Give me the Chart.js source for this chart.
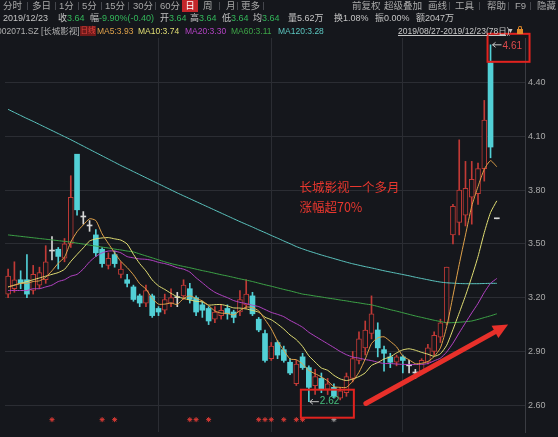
<!DOCTYPE html>
<html lang="zh-CN">
<head>
<meta charset="utf-8">
<title>长城影视 002071.SZ 日线</title>
<script src="https://cdn.jsdelivr.net/npm/chart.js@4.4.1/dist/chart.umd.min.js"></script>
<style>
  html, body { margin:0; padding:0; background:#15171c; }
  #wrap { position:relative; width:558px; height:437px; overflow:hidden; background:#15171c;
          font-family:"Liberation Sans","Noto Sans CJK SC",sans-serif; color:#b4b4b4; }
  #kline { position:absolute; left:0; top:0; }
  .t { position:absolute; white-space:nowrap; }
  .r1 { top:0; font-size:9.5px; line-height:12px; color:#a9a9a9; }
  .r2 { top:12px; font-size:9px; line-height:13px; color:#c4c4c4; }
  .r3 { top:25px; font-size:8.5px; line-height:12px; color:#b0b0b0; }
  .sep { position:absolute; top:2px; width:1px; height:8px; background:#45474d; }
  .g { color:#33b65a; }
  .tab { position:absolute; top:0; left:182px; width:16px; height:12px; background:#c3262b; color:#fff;
         font-size:9.5px; line-height:12px; text-align:center; }
  .tag { position:absolute; top:26px; left:80px; width:16px; height:10px; background:#6e1a1a; color:#e0413c;
         font-size:7.5px; line-height:10px; text-align:center; }
  .lock { position:absolute; top:29px; left:517px; width:6px; height:5px; background:#e08a2a; }
  .lock:before { content:""; position:absolute; left:1px; top:-3px; width:2px; height:2px;
                 border:1px solid #e08a2a; border-bottom:none; border-radius:2px 2px 0 0; }
</style>
</head>
<body>
<div id="wrap">
  <canvas id="kline" width="558" height="437"></canvas>

  <!-- period tabs -->
  <span class="t r1" style="left:3px">分时</span><span class="sep" style="left:27px"></span>
  <span class="t r1" style="left:32px">多日</span><span class="sep" style="left:55px"></span>
  <span class="t r1" style="left:59px">1分</span><span class="sep" style="left:78px"></span>
  <span class="t r1" style="left:82px">5分</span><span class="sep" style="left:101px"></span>
  <span class="t r1" style="left:105px">15分</span><span class="sep" style="left:128px"></span>
  <span class="t r1" style="left:133px">30分</span><span class="sep" style="left:155px"></span>
  <span class="t r1" style="left:160px">60分</span>
  <div class="tab">日</div>
  <span class="t r1" style="left:203px">周</span><span class="sep" style="left:219px"></span>
  <span class="t r1" style="left:226px">月</span><span class="sep" style="left:237px"></span>
  <span class="t r1" style="left:241px">更多</span><span class="sep" style="left:263px"></span>

  <span class="t r1" style="left:352px">前复权</span><span class="sep" style="left:378px"></span>
  <span class="t r1" style="left:384px">超级叠加</span><span class="sep" style="left:421px"></span>
  <span class="t r1" style="left:428px">画线</span><span class="sep" style="left:449px"></span>
  <span class="t r1" style="left:455px">工具</span><span class="sep" style="left:479px"></span>
  <span class="t r1" style="left:487px">帮助</span><span class="sep" style="left:508px"></span>
  <span class="t r1" style="left:515px">F9</span><span class="sep" style="left:530px"></span>
  <span class="t r1" style="left:537px">隐藏</span>

  <!-- quote line -->
  <span class="t r2" style="left:3px">2019/12/23</span>
  <span class="t r2" style="left:58px">收</span><span class="t r2 g" style="left:67px">3.64</span>
  <span class="t r2" style="left:90px">幅</span><span class="t r2 g" style="left:99px">-9.90%(-0.40)</span>
  <span class="t r2" style="left:160px">开</span><span class="t r2 g" style="left:169px">3.64</span>
  <span class="t r2" style="left:190px">高</span><span class="t r2 g" style="left:199px">3.64</span>
  <span class="t r2" style="left:222px">低</span><span class="t r2 g" style="left:231px">3.64</span>
  <span class="t r2" style="left:253px">均</span><span class="t r2 g" style="left:262px">3.64</span>
  <span class="t r2" style="left:288px">量</span><span class="t r2" style="left:297px">5.62万</span>
  <span class="t r2" style="left:334px">换</span><span class="t r2" style="left:343px">1.08%</span>
  <span class="t r2" style="left:375px">振</span><span class="t r2" style="left:384px">0.00%</span>
  <span class="t r2" style="left:416px">额</span><span class="t r2" style="left:425px">2047万</span>

  <!-- indicator line -->
  <span class="t r3" style="left:-3px">002071.SZ [长城影视]</span>
  <div class="tag">日线</div>
  <span class="t r3" style="left:97px;color:#e0a24a">MA5:3.93</span>
  <span class="t r3" style="left:138px;color:#e2df74">MA10:3.74</span>
  <span class="t r3" style="left:185px;color:#b443c4">MA20:3.30</span>
  <span class="t r3" style="left:231px;color:#3da447">MA60:3.11</span>
  <span class="t r3" style="left:278px;color:#5cc6c0">MA120:3.28</span>
  <span class="t r3" style="left:398px;color:#c8c8c8;text-decoration:underline">2019/08/27-2019/12/23(78日)</span>
  <span class="t r3" style="left:507px;color:#c8c8c8;font-size:7px">▼</span>
  <span class="lock"></span>
</div>

<script>
// ---- daily bars, 2019-08-27 .. 2019-12-23 ----
const tradeDays = [
  '2019-08-27','2019-08-28','2019-08-29','2019-08-30',
  '2019-09-02','2019-09-03','2019-09-04','2019-09-05','2019-09-06','2019-09-09','2019-09-10','2019-09-11','2019-09-12',
  '2019-09-16','2019-09-17','2019-09-18','2019-09-19','2019-09-20','2019-09-23','2019-09-24','2019-09-25','2019-09-26','2019-09-27','2019-09-30',
  '2019-10-08','2019-10-09','2019-10-10','2019-10-11','2019-10-14','2019-10-15','2019-10-16','2019-10-17','2019-10-18',
  '2019-10-21','2019-10-22','2019-10-23','2019-10-24','2019-10-25','2019-10-28','2019-10-29','2019-10-30','2019-10-31',
  '2019-11-01','2019-11-04','2019-11-05','2019-11-06','2019-11-07','2019-11-08','2019-11-11','2019-11-12','2019-11-13','2019-11-14','2019-11-15',
  '2019-11-18','2019-11-19','2019-11-20','2019-11-21','2019-11-22','2019-11-25','2019-11-26','2019-11-27','2019-11-28','2019-11-29',
  '2019-12-02','2019-12-03','2019-12-04','2019-12-05','2019-12-06','2019-12-09','2019-12-10','2019-12-11','2019-12-12','2019-12-13',
  '2019-12-16','2019-12-17','2019-12-18','2019-12-19','2019-12-20','2019-12-23'
];

const opens = [3.22,3.25,3.30,3.30,3.24,3.27,3.30,3.46,3.47,3.42,3.50,4.00,3.65,3.60,3.55,3.47,3.38,3.44,3.33,3.30,
  3.26,3.21,3.17,3.21,3.14,3.13,3.17,3.20,3.21,3.25,3.20,3.16,3.14,3.08,3.10,3.14,3.12,3.12,3.16,3.21,
  3.08,3.00,2.86,2.95,2.91,2.84,2.72,2.87,2.81,2.71,2.75,2.69,2.70,2.64,2.67,2.75,2.85,2.92,3.00,3.02,
  2.91,2.87,2.84,2.87,2.82,2.78,2.79,2.84,2.90,2.98,3.06,3.55,3.62,3.66,3.76,3.78,3.92,4.51,3.64];
const highs = [3.36,3.40,3.35,3.44,3.38,3.37,3.49,3.54,3.48,3.53,3.88,4.00,3.68,3.63,3.58,3.48,3.45,3.46,3.40,3.33,
  3.27,3.22,3.27,3.22,3.15,3.22,3.25,3.23,3.30,3.28,3.21,3.18,3.15,3.15,3.16,3.16,3.13,3.24,3.30,3.23,
  3.09,3.02,2.95,2.96,2.93,2.86,2.85,2.89,2.82,2.80,2.78,2.75,2.72,2.70,2.78,2.90,3.01,3.07,3.21,3.06,
  2.93,2.89,2.88,2.88,2.85,2.80,2.86,2.94,3.01,3.08,3.37,3.72,4.08,3.96,3.96,3.95,4.30,4.61,3.64];
const lows = [3.20,3.23,3.25,3.20,3.22,3.25,3.28,3.41,3.36,3.40,3.48,3.66,3.61,3.57,3.43,3.37,3.36,3.37,3.31,3.26,
  3.18,3.15,3.15,3.09,3.10,3.11,3.15,3.15,3.19,3.17,3.10,3.09,3.05,3.06,3.08,3.08,3.06,3.10,3.14,3.10,
  3.01,2.84,2.85,2.86,2.84,2.77,2.71,2.80,2.62,2.66,2.67,2.66,2.64,2.63,2.65,2.73,2.83,2.88,2.97,2.87,
  2.79,2.81,2.82,2.78,2.78,2.75,2.78,2.83,2.88,2.95,3.05,3.50,3.55,3.60,3.61,3.72,3.85,3.98,3.64];
const closes = [3.32,3.30,3.28,3.22,3.33,3.34,3.40,3.46,3.43,3.50,3.76,3.69,3.65,3.60,3.45,3.39,3.42,3.39,3.36,3.28,
  3.19,3.17,3.24,3.10,3.12,3.19,3.20,3.20,3.27,3.19,3.12,3.13,3.07,3.12,3.13,3.11,3.09,3.19,3.22,3.11,
  3.02,2.85,2.93,2.88,2.85,2.78,2.83,2.81,2.70,2.76,2.69,2.72,2.65,2.68,2.76,2.86,2.97,3.02,3.11,2.92,
  2.89,2.84,2.87,2.85,2.82,2.78,2.85,2.92,2.99,3.06,3.37,3.71,3.80,3.81,3.86,3.92,4.19,4.04,3.64];

// moving averages as plotted
const ma5 = [3.26,3.27,3.28,3.28,3.29,3.294,3.314,3.35,3.392,3.426,3.51,3.568,3.606,3.64,3.63,3.556,3.502,3.45,3.402,3.368,
  3.328,3.278,3.248,3.196,3.164,3.164,3.17,3.162,3.196,3.21,3.196,3.182,3.156,3.126,3.114,3.112,3.104,3.128,3.148,3.144,
  3.126,3.078,3.026,2.958,2.906,2.858,2.854,2.83,2.794,2.776,2.758,2.736,2.704,2.70,2.70,2.734,2.784,2.858,2.944,2.976,
  2.982,2.956,2.926,2.874,2.854,2.832,2.834,2.844,2.872,2.92,3.038,3.21,3.386,3.55,3.71,3.82,3.916,3.964,3.93];
const ma10 = [3.26,3.27,3.28,3.29,3.30,3.31,3.32,3.33,3.34,3.358,3.402,3.441,3.478,3.516,3.528,3.533,3.535,3.528,3.521,3.499,
  3.442,3.39,3.349,3.299,3.266,3.246,3.224,3.205,3.196,3.187,3.18,3.176,3.159,3.161,3.162,3.154,3.143,3.142,3.137,3.129,
  3.119,3.091,3.077,3.053,3.025,2.992,2.966,2.928,2.876,2.841,2.808,2.795,2.767,2.747,2.738,2.746,2.76,2.781,2.822,2.838,
  2.858,2.87,2.892,2.909,2.915,2.907,2.895,2.885,2.873,2.887,2.935,3.022,3.115,3.211,3.315,3.429,3.563,3.675,3.74];
const ma20 = [3.24,3.24,3.24,3.24,3.25,3.25,3.26,3.27,3.29,3.30,3.32,3.33,3.36,3.40,3.43,3.45,3.46,3.46,3.45,3.429,
  3.422,3.416,3.414,3.408,3.397,3.39,3.38,3.367,3.359,3.343,3.311,3.283,3.254,3.23,3.214,3.20,3.184,3.174,3.167,3.158,
  3.15,3.134,3.118,3.107,3.094,3.073,3.055,3.035,3.007,2.985,2.964,2.943,2.922,2.90,2.882,2.869,2.863,2.855,2.849,2.84,
  2.833,2.833,2.83,2.828,2.827,2.827,2.828,2.833,2.848,2.863,2.897,2.946,3.004,3.06,3.115,3.168,3.229,3.28,3.307];
const ma60 = [3.55,3.546,3.542,3.538,3.534,3.53,3.526,3.522,3.518,3.514,3.51,3.504,3.499,3.493,3.488,3.482,3.477,3.471,3.466,3.46,
  3.455,3.444,3.433,3.422,3.411,3.40,3.39,3.382,3.374,3.367,3.359,3.351,3.344,3.336,3.328,3.321,3.313,3.305,3.298,3.29,
  3.281,3.272,3.264,3.255,3.246,3.238,3.229,3.22,3.215,3.209,3.204,3.198,3.193,3.187,3.182,3.176,3.171,3.165,3.16,3.151,
  3.142,3.133,3.125,3.116,3.107,3.098,3.09,3.082,3.074,3.067,3.06,3.061,3.063,3.066,3.07,3.079,3.089,3.099,3.11];
const ma120 = [4.25,4.233,4.216,4.199,4.183,4.166,4.149,4.132,4.115,4.098,4.081,4.063,4.045,4.027,4.009,3.991,3.973,3.955,3.937,3.92,
  3.903,3.886,3.869,3.852,3.835,3.818,3.801,3.784,3.768,3.752,3.736,3.72,3.704,3.688,3.672,3.656,3.64,3.624,3.609,3.594,
  3.578,3.563,3.547,3.532,3.516,3.501,3.485,3.472,3.46,3.449,3.438,3.428,3.418,3.408,3.398,3.389,3.381,3.373,3.366,3.358,
  3.35,3.343,3.336,3.329,3.322,3.314,3.307,3.30,3.293,3.287,3.283,3.281,3.279,3.278,3.278,3.278,3.279,3.28,3.28];

// signal marks under the bars (day indices)
const signalDays = [7, 15, 17, 29, 30, 32, 40, 41, 42, 44, 46, 47];
const signalDaysGrey = [52];

const priceTicks = [2.60, 2.90, 3.20, 3.50, 3.80, 4.10, 4.40];
const monthStarts = ['2019-10-08', '2019-11-01', '2019-12-02'];
const blankSlots = 4;

const captionLines = ['长城影视一个多月', '涨幅超70%'];

// ---- styling ----
const BG = '#15171c', GRID = '#2b2d33';
const UP = '#c23a36', DOWN = '#52d0d6', FLAT = '#d6d6d6';
const kind = closes.map((c, i) => c > opens[i] ? 'up' : (c < opens[i] ? 'down' : 'flat'));
const pick = (k, u, d, f) => k === 'up' ? u : (k === 'down' ? d : f);

const labels = tradeDays.concat(Array.from({ length: blankSlots }, (_, k) => ' '.repeat(k + 1)));
const monthIdx = new Set(monthStarts.map(d => tradeDays.indexOf(d)));
const signalLevel = 2.52;
const marksAt = (days) => tradeDays.map((_, i) => days.includes(i) ? signalLevel : null);

function pointer(ctx, x0, y0, color) {
  ctx.strokeStyle = color; ctx.lineWidth = 1;
  ctx.beginPath();
  ctx.moveTo(x0, y0); ctx.lineTo(x0 + 9, y0);
  ctx.moveTo(x0, y0); ctx.lineTo(x0 + 3, y0 - 2.5);
  ctx.moveTo(x0, y0); ctx.lineTo(x0 + 3, y0 + 2.5);
  ctx.stroke();
}

const marks = {
  id: 'marks',
  afterDraw(chart) {
    const { ctx, scales: { x, y } } = chart;
    ctx.save();
    const lo = lows.indexOf(Math.min(...lows));
    const hi = highs.indexOf(Math.max(...highs));
    const xl = x.getPixelForValue(lo), yl = y.getPixelForValue(lows[lo]);
    const xh = x.getPixelForValue(hi), yh = y.getPixelForValue(highs[hi]);

    ctx.font = '10px "Liberation Sans", sans-serif';
    ctx.textBaseline = 'middle';
    pointer(ctx, xl + 1, yl, '#c8c8c8');
    ctx.fillStyle = '#47c07e';
    ctx.fillText(lows[lo].toFixed(2), xl + 11, yl);
    pointer(ctx, xh + 2, yh, '#c8c8c8');
    ctx.fillStyle = '#de4a4c';
    ctx.fillText(highs[hi].toFixed(2), xh + 12, yh + 1);

    // red frames around the low and the high
    ctx.strokeStyle = '#e2231f'; ctx.lineWidth = 2;
    ctx.strokeRect(xl - 8, yl - 12, 53, 28);
    ctx.strokeRect(xh - 3, yh - 11, 42, 28);

    // rising trend arrow
    const ax0 = x.getPixelForValue(57.1), ay0 = y.getPixelForValue(2.61);
    const ax1 = x.getPixelForValue(79.8), ay1 = y.getPixelForValue(3.05);
    const ang = Math.atan2(ay1 - ay0, ax1 - ax0);
    const head = 15, half = 7;
    const bx = ax1 - head * Math.cos(ang), by = ay1 - head * Math.sin(ang);
    ctx.strokeStyle = '#e8302a'; ctx.fillStyle = '#e8302a';
    ctx.lineWidth = 5; ctx.lineCap = 'round';
    ctx.beginPath(); ctx.moveTo(ax0, ay0); ctx.lineTo(bx, by); ctx.stroke();
    ctx.beginPath();
    ctx.moveTo(ax1, ay1);
    ctx.lineTo(bx + half * Math.sin(ang), by - half * Math.cos(ang));
    ctx.lineTo(bx - half * Math.sin(ang), by + half * Math.cos(ang));
    ctx.closePath(); ctx.fill();

    // caption
    ctx.fillStyle = '#e8372e';
    ctx.font = '12.5px "Noto Sans CJK SC", sans-serif';
    ctx.textBaseline = 'middle';
    const cx = x.getPixelForValue(46.5);
    ctx.fillText(captionLines[0], cx, y.getPixelForValue(3.815));
    ctx.fillText(captionLines[1], cx, y.getPixelForValue(3.705));
    ctx.restore();
  }
};

new Chart(document.getElementById('kline'), {
  data: {
    labels,
    datasets: [
      { type: 'line', label: 'MA5', data: ma5, borderColor: '#e0a24a', borderWidth: 1, pointRadius: 0, tension: 0.2, order: 1 },
      { type: 'line', label: 'MA10', data: ma10, borderColor: '#e2df74', borderWidth: 1, pointRadius: 0, tension: 0.2, order: 1 },
      { type: 'line', label: 'MA20', data: ma20, borderColor: '#b443c4', borderWidth: 1, pointRadius: 0, tension: 0.2, order: 1 },
      { type: 'line', label: 'MA60', data: ma60, borderColor: '#3da447', borderWidth: 1, pointRadius: 0, tension: 0.2, order: 1 },
      { type: 'line', label: 'MA120', data: ma120, borderColor: '#5cc6c0', borderWidth: 1, pointRadius: 0, tension: 0.2, order: 1 },
      { type: 'bar', label: 'body', data: opens.map((o, i) => [o, closes[i]]),
        backgroundColor: kind.map(k => pick(k, BG, DOWN, FLAT)),
        borderColor: kind.map(k => pick(k, UP, DOWN, FLAT)),
        borderWidth: kind.map(k => k === 'up' ? 1 : 0),
        borderSkipped: false, barThickness: 5, minBarLength: 1, grouped: false, order: 2 },
      { type: 'bar', label: 'wick', data: lows.map((l, i) => [l, highs[i]]),
        backgroundColor: kind.map(k => pick(k, UP, DOWN, FLAT)),
        barThickness: 1, grouped: false, order: 3 },
      { type: 'line', label: 'signal', data: marksAt(signalDays), showLine: false,
        pointStyle: 'star', pointRadius: 2.5, borderColor: '#d83a34', borderWidth: 1, order: 0 },
      { type: 'line', label: 'signal2', data: marksAt(signalDaysGrey), showLine: false,
        pointStyle: 'star', pointRadius: 2.5, borderColor: '#9a9a9a', borderWidth: 1, order: 0 }
    ]
  },
  options: {
    responsive: false,
    devicePixelRatio: 1,
    animation: false,
    events: [],
    layout: { padding: { top: 38, left: 2, right: 0, bottom: 0 } },
    plugins: { legend: { display: false }, tooltip: { enabled: false } },
    scales: {
      x: {
        type: 'category', offset: true,
        grid: { offset: false, drawTicks: false, color: c => monthIdx.has(c.index) ? GRID : 'rgba(0,0,0,0)' },
        ticks: { display: false, autoSkip: false },
        border: { display: false },
        afterFit: s => { s.height = 0; }
      },
      y: {
        position: 'right', min: 2.451, max: 4.648,
        afterBuildTicks: s => { s.ticks = priceTicks.map(v => ({ value: v })); },
        ticks: { color: '#a9a9a9', padding: 3, font: { size: 9, family: 'Liberation Sans' },
                 callback: v => Number(v).toFixed(2) },
        grid: { color: GRID, drawTicks: false },
        border: { display: true, color: '#3a3c42' },
        afterFit: s => { s.width = 33; s.paddingTop = 0; s.paddingBottom = 0; }
      }
    }
  },
  plugins: [marks]
});
</script>
</body>
</html>
